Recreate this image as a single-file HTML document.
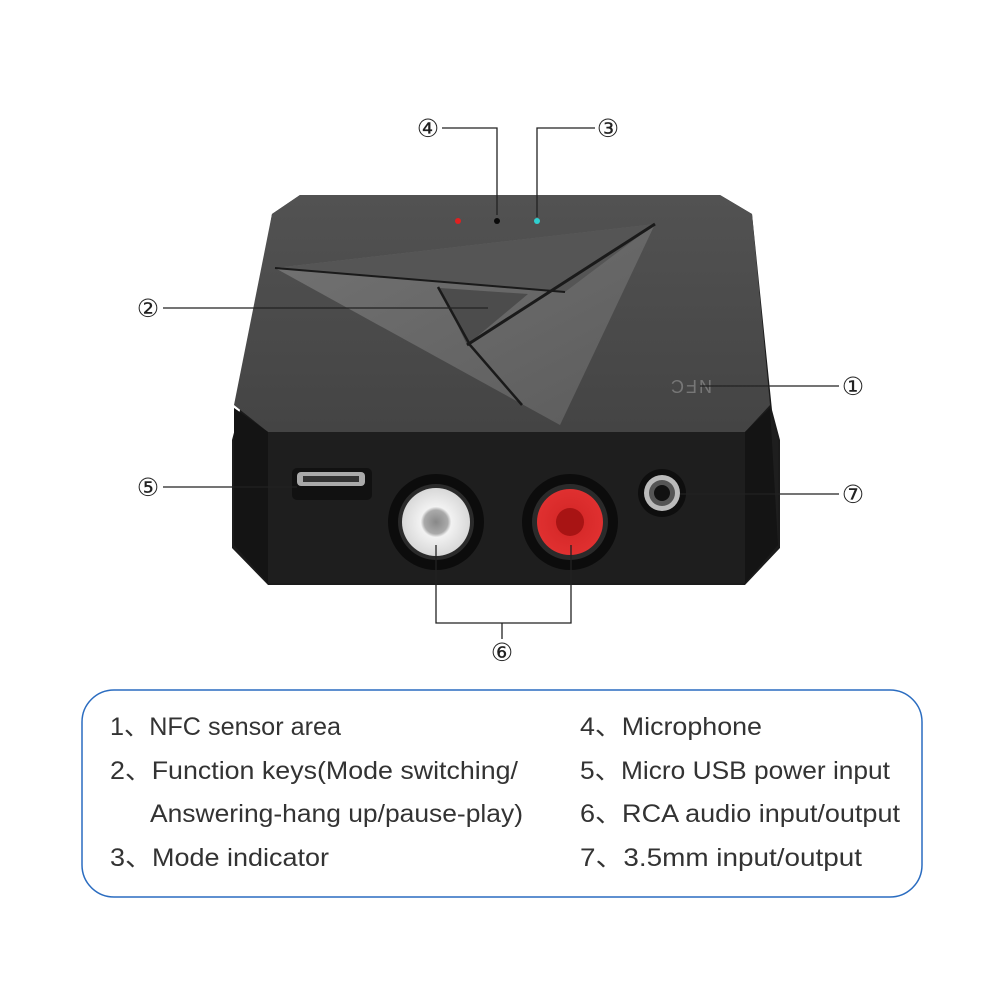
<!DOCTYPE html>
<html><head><meta charset="utf-8"><style>
html,body{margin:0;padding:0;background:#fff;width:1000px;height:1000px;overflow:hidden}
</style></head><body>
<svg width="1000" height="1000" viewBox="0 0 1000 1000" xmlns="http://www.w3.org/2000/svg">
<defs>
<linearGradient id="top" x1="0" y1="0" x2="0" y2="1">
<stop offset="0" stop-color="#525252"/><stop offset="1" stop-color="#444"/></linearGradient>
<linearGradient id="tri" x1="0" y1="0" x2="1" y2="1">
<stop offset="0" stop-color="#737373"/><stop offset="1" stop-color="#5c5c5c"/></linearGradient>
<radialGradient id="wh"><stop offset="0" stop-color="#888"/><stop offset="0.35" stop-color="#aaa"/><stop offset="0.45" stop-color="#f2f2f2"/><stop offset="1" stop-color="#d8d8d8"/></radialGradient>
<radialGradient id="rd"><stop offset="0" stop-color="#a01010"/><stop offset="0.45" stop-color="#d82a2a"/><stop offset="1" stop-color="#e03030"/></radialGradient>
</defs>
<polygon points="300,195 720,195 752,214 772,410 780,440 780,548 745,585 268,585 232,548 232,440 240,410 272,214" fill="#1b1b1b"/>
<polygon points="300,195 720,195 752,214 770,405 745,432 268,432 234,405 272,214" fill="url(#top)"/>
<polygon points="268,432 745,432 770,410 778,440 778,545 745,583 268,583 234,545 234,440 234,408" fill="#1e1e1e"/>
<polygon points="234,408 268,432 268,583 234,545" fill="#141414"/>
<polygon points="770,408 745,432 745,583 778,545" fill="#141414"/>
<polygon points="275,268 655,224 560,425" fill="url(#tri)"/>
<polygon points="275,268 655,224 565,292" fill="#555"/>
<polygon points="440,288 528,294 467,345" fill="#4c4c4c"/>
<polyline points="275,268 565,292" fill="none" stroke="#1a1a1a" stroke-width="2"/>
<polyline points="655,224 467,345" fill="none" stroke="#1a1a1a" stroke-width="3"/>
<polyline points="438,287 470,345 522,405" fill="none" stroke="#1a1a1a" stroke-width="2.5"/>
<circle cx="458" cy="221" r="3" fill="#e02020"/>
<circle cx="497" cy="221" r="3" fill="#0a0a0a"/>
<circle cx="537" cy="221" r="3" fill="#2fd0d0"/>
<text x="0" y="0" transform="translate(712,380) scale(-1,-1)" font-family="Liberation Sans,sans-serif" font-size="18" fill="#777" letter-spacing="2">NFC</text>
<rect x="292" y="468" width="80" height="32" rx="5" fill="#111"/>
<rect x="297" y="472" width="68" height="14" rx="4" fill="#aaa"/>
<rect x="303" y="476" width="56" height="6" fill="#333"/>
<circle cx="436" cy="522" r="48" fill="#0c0c0c"/>
<circle cx="436" cy="522" r="38" fill="#2a2a2a"/>
<circle cx="436" cy="522" r="34" fill="url(#wh)"/>
<circle cx="570" cy="522" r="48" fill="#0c0c0c"/>
<circle cx="570" cy="522" r="38" fill="#2a2a2a"/>
<circle cx="570" cy="522" r="33" fill="url(#rd)"/>
<circle cx="570" cy="522" r="14" fill="#a81414"/>
<circle cx="662" cy="493" r="24" fill="#0e0e0e"/>
<circle cx="662" cy="493" r="18" fill="#bbb"/>
<circle cx="662" cy="493" r="13" fill="#555"/>
<circle cx="662" cy="493" r="8" fill="#111"/>
<g stroke="#222" stroke-width="1.3" fill="none">
<polyline points="442,128 497,128 497,215"/>
<polyline points="595,128 537,128 537,217"/>
<line x1="163" y1="308" x2="488" y2="308"/>
<line x1="700" y1="386" x2="839" y2="386"/>
<line x1="163" y1="487" x2="297" y2="487"/>
<line x1="680" y1="494" x2="839" y2="494"/>
<polyline points="436,545 436,623 571,623 571,545"/>
<line x1="502" y1="623" x2="502" y2="639"/>
</g>
<g font-family="Liberation Sans,DejaVu Sans,sans-serif" font-size="25" fill="#222" text-anchor="middle">
<text x="428" y="137">④</text>
<text x="608" y="137">③</text>
<text x="148" y="317">②</text>
<text x="853" y="395">①</text>
<text x="148" y="496">⑤</text>
<text x="853" y="503">⑦</text>
<text x="502" y="661">⑥</text>
</g>
<rect x="82" y="690" width="840" height="207" rx="32" fill="#fff" stroke="#2a6cc0" stroke-width="1.5"/>
<g font-family="Liberation Sans,'Noto Sans CJK SC',sans-serif" font-size="25" fill="#333">
<text x="110" y="735" textLength="231" lengthAdjust="spacingAndGlyphs">1、NFC sensor area</text>
<text x="110" y="779" textLength="408" lengthAdjust="spacingAndGlyphs">2、Function keys(Mode switching/</text>
<text x="150" y="822" textLength="373" lengthAdjust="spacingAndGlyphs">Answering-hang up/pause-play)</text>
<text x="110" y="866" textLength="219" lengthAdjust="spacingAndGlyphs">3、Mode indicator</text>
<text x="580" y="735" textLength="182" lengthAdjust="spacingAndGlyphs">4、Microphone</text>
<text x="580" y="779" textLength="310" lengthAdjust="spacingAndGlyphs">5、Micro USB power input</text>
<text x="580" y="822" textLength="320" lengthAdjust="spacingAndGlyphs">6、RCA audio input/output</text>
<text x="580" y="866" textLength="282" lengthAdjust="spacingAndGlyphs">7、3.5mm input/output</text>
</g>
</svg>
</body></html>
